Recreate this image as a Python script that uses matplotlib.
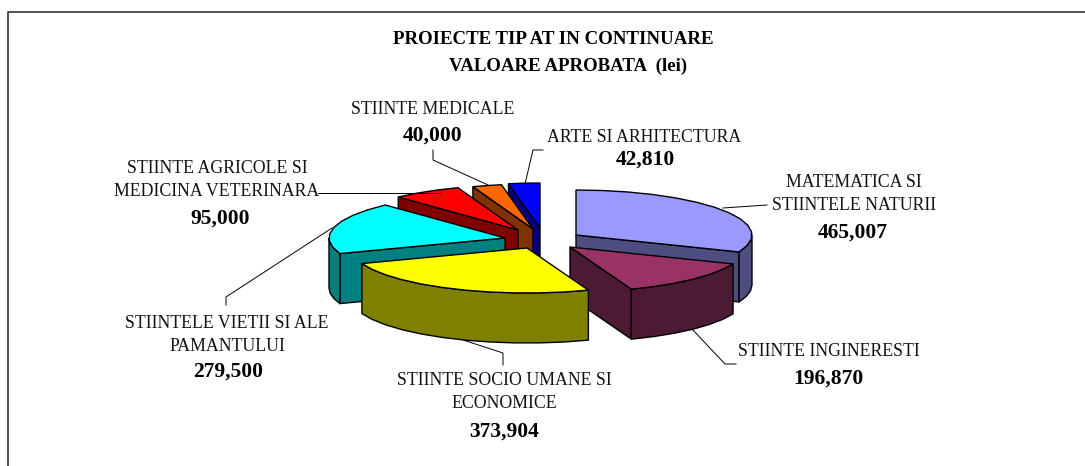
import numpy as np
import matplotlib
matplotlib.use("Agg")
import matplotlib.pyplot as plt
from matplotlib.patches import Polygon

plt.rcParams['font.family'] = ['Liberation Serif', 'DejaVu Serif']

title_lines = ["PROIECTE TIP AT IN CONTINUARE", "VALOARE APROBATA  (lei)"]
categories = ["MATEMATICA SI\nSTIINTELE NATURII", "STIINTE INGINERESTI",
              "STIINTE SOCIO UMANE SI\nECONOMICE", "STIINTELE VIETII SI ALE\nPAMANTULUI",
              "STIINTE AGRICOLE SI\nMEDICINA VETERINARA", "STIINTE MEDICALE", "ARTE SI ARHITECTURA"]
values = [465007, 196870, 373904, 279500, 95000, 40000, 42810]

top_colors = ['#9999FF', '#993366', '#FFFF00', '#00FFFF', '#FF0000', '#FF6600', '#0000FF']
side_colors = ['#4D4D80', '#4D1A33', '#808000', '#008080', '#800000', '#803300', '#000080']
apex = [(576, 235), (570, 247), (527, 248), (505, 238), (518, 230), (533, 229), (540, 228)]
draw_order = [6, 5, 4, 3, 0, 1, 2]
RX, RY, DEPTH = 176, 45, 50

label_pos = [(854, 194), (829, 351), (504, 392), (227, 335), (217, 180), (433, 109), (644, 137)]
value_pos = [(853, 233), (828, 379), (504, 432), (228, 372), (220, 219), (433, 136), (645, 160)]
leaders = [
    [(723, 208), (767, 205)],
    [(692, 329), (725, 364), (736, 364)],
    [(463, 340), (503, 353), (503, 365)],
    [(332, 228), (226, 297), (226, 305)],
    [(440, 193), (318, 193)],
    [(488, 185), (433, 160), (433, 150)],
    [(525, 184), (533, 150), (543, 150)],
]

fig = plt.figure(figsize=(10.85, 4.66), dpi=100)
ax = fig.add_axes([0, 0, 1, 1])
ax.set_xlim(0, 1085)
ax.set_ylim(466, 0)
ax.axis('off')

# chart frame: only the top and left edges fall inside the image
ax.plot([7.5, 7.5, 1085], [466, 12, 12], color='#333333', lw=1.2)

fractions = np.array(values) / sum(values)
edges = np.concatenate([[0], np.cumsum(fractions) * 360])


def rim(c, t1, t2):
    n = max(2, int((t2 - t1) / 9) + 2)
    t = np.radians(np.linspace(t1, t2, n))
    return np.column_stack([c[0] + RX * np.sin(t), c[1] - RY * np.cos(t)])


for i in draw_order:
    c, t1, t2 = apex[i], edges[i], edges[i + 1]
    kw = dict(fc=side_colors[i], ec='black', lw=1.0, joinstyle='round')
    # cut faces turned toward the viewer
    for ang, vis in ((t1, 180 < t1 < 360), (t2, 0 < t2 < 180)):
        if vis:
            p = rim(c, ang, ang)[0]
            ax.add_patch(Polygon([c, p, (p[0], p[1] + DEPTH), (c[0], c[1] + DEPTH)], **kw))
    # outer rim on the front half
    a, b = max(t1, 90), min(t2, 270)
    if a < b:
        r = rim(c, a, b)
        low = r[::-1] + [0, DEPTH]
        ax.add_patch(Polygon(np.vstack([r, low]), **kw))
    ax.add_patch(Polygon(np.vstack([[c], rim(c, t1, t2)]), fc=top_colors[i], ec='black', lw=1.0))

for pts in leaders:
    xs, ys = zip(*pts)
    ax.plot(xs, ys, color='black', lw=0.7)

for s, x, y in zip(title_lines, (553, 568), (40, 66)):
    ax.text(x, y, s, ha='center', va='center', fontsize=13.6, fontweight='bold')

for name, v, lp, vp in zip(categories, values, label_pos, value_pos):
    ax.text(lp[0], lp[1], name, ha='center', va='center', fontsize=12.8, linespacing=1.41, color='#111111')
    ax.text(vp[0], vp[1], f"{v:,}", ha='center', va='center', fontsize=15.5, fontweight='bold')

fig.savefig("out.png", dpi=100)
